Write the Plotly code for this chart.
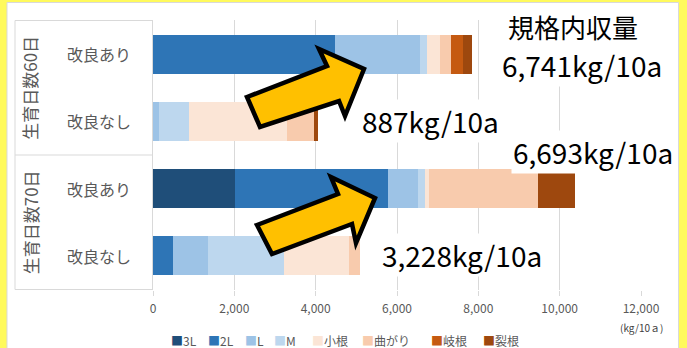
import plotly.graph_objects as go

# ---------------- data ----------------
categories = ["生育日数60日・改良あり", "生育日数60日・改良なし",
              "生育日数70日・改良あり", "生育日数70日・改良なし"]
sub_labels = ["改良あり", "改良なし", "改良あり", "改良なし"]
group_labels = ["生育日数60日", "生育日数70日"]

series_names = ["3L", "2L", "L", "M", "小根", "曲がり", "岐根", "裂根"]
v_3L = [0, 0, 2015, 0]
v_2L = [4480, 0, 3765, 495]
v_L = [2090, 150, 740, 862]
v_M = [171, 737, 173, 1871]
v_small = [320, 2414, 99, 1601]
v_bent = [271, 665, 2685, 271]
v_fork = [296, 0, 0, 0]
v_crack = [222, 99, 911, 0]
series_values = [v_3L, v_2L, v_L, v_M, v_small, v_bent, v_fork, v_crack]
colors = ["#1F4E79", "#2E75B6", "#9DC3E6", "#BDD7EE",
          "#FBE5D6", "#F8CBAD", "#C55A11", "#9E480E"]

x_ticks = [0, 2000, 4000, 6000, 8000, 10000, 12000]

# marketable yield (3L..M) per row
marketable = [a + b + c + d for a, b, c, d in zip(v_3L, v_2L, v_L, v_M)]

# ---------------- geometry helpers ----------------
W, H = 687, 348
L_, R_, T_, B_ = 153, 46, 20, 58
PW, PH = W - L_ - R_, H - T_ - B_


def px(x):
    return (x - L_) / PW


def py(y):
    return 1 - (y - T_) / PH


fig = go.Figure()
for name, vals, col in zip(series_names, series_values, colors):
    fig.add_trace(go.Bar(
        y=categories, x=vals, name=name, orientation="h",
        marker=dict(color=col, line=dict(width=0)), showlegend=False,
    ))

shapes = []
# chart area (white) on yellow background
shapes.append(dict(type="rect", xref="paper", yref="paper", layer="below",
                   x0=px(7), x1=px(678.5), y0=py(400), y1=py(2.5),
                   fillcolor="white", line=dict(color="#D9D9D9", width=1)))
# category label box
gc = "#D9D9D9"
for yv in [-0.5, 1.5, 3.5]:
    shapes.append(dict(type="line", xref="paper", yref="y", x0=px(15), x1=px(153),
                       y0=yv, y1=yv, line=dict(color=gc, width=1)))
shapes.append(dict(type="line", xref="paper", yref="y", x0=px(15), x1=px(15),
                   y0=-0.5, y1=3.5, line=dict(color=gc, width=1)))


def arrow_path(pts):
    return "M " + " L ".join(f"{px(a):.5f},{py(b):.5f}" for a, b in pts) + " Z"


arrow1 = [(247, 97), (327, 66), (319, 49), (364, 69), (345, 116), (339, 101), (260, 127)]
arrow2 = [(257, 225), (338, 194), (331, 177), (375, 198), (356, 243), (352, 224), (272, 254)]
for arr in (arrow1, arrow2):
    shapes.append(dict(type="path", xref="paper", yref="paper", layer="above",
                       path=arrow_path(arr), fillcolor="#FFC000",
                       line=dict(color="black", width=4.5)))

ann = []
gray = "#595959"
jp = "Noto Sans CJK JP"
for cat, lab in zip(categories, sub_labels):
    ann.append(dict(xref="paper", yref="y", x=px(99), y=cat, text=lab, showarrow=False,
                    font=dict(family=jp, size=16, color=gray), xanchor="center", yanchor="middle"))
for i, g in enumerate(group_labels):
    ann.append(dict(xref="paper", yref="y", x=px(30), y=0.5 + 2 * i, text=g, showarrow=False,
                    textangle=-90, font=dict(family=jp, size=17, color=gray),
                    xanchor="center", yanchor="middle"))

big = dict(family=jp, size=28, color="black")
ann.append(dict(xref="paper", yref="paper", x=px(573), y=py(27), text="規格内収量",
                showarrow=False, font=dict(family=jp, size=26, color="black"),
                bgcolor="white", xanchor="center", yanchor="middle"))
yield_pos = [(582, 65), (430, 121), (593, 152), (462, 255)]
for m, (xx, yy) in zip(marketable, yield_pos):
    ann.append(dict(xref="paper", yref="paper", x=px(xx), y=py(yy), text=f"{m:,}kg/10a",
                    showarrow=False, font=big, bgcolor="white",
                    xanchor="center", yanchor="middle"))

ann.append(dict(xref="paper", yref="paper", x=px(641), y=py(327), text="(kg/10ａ)",
                showarrow=False, font=dict(family=jp, size=10, color="#404040"),
                xanchor="center", yanchor="middle"))

# legend (drawn as text entries)
legend_x = [169, 206, 243, 272, 310, 360, 429, 481]
for name, col, lx in zip(series_names, colors, legend_x):
    ann.append(dict(xref="paper", yref="paper", x=px(lx), y=py(340),
                    text=f'<span style="color:{col}">■</span>{name}', showarrow=False,
                    font=dict(family=jp, size=12, color=gray),
                    xanchor="left", yanchor="middle"))

fig.update_layout(
    width=W, height=H, barmode="stack", bargap=0.42,
    margin=dict(l=L_, r=R_, t=T_, b=B_, pad=0),
    paper_bgcolor="#FFFA5C", plot_bgcolor="white",
    font=dict(family=jp, color=gray),
    shapes=shapes, annotations=ann, showlegend=False,
    xaxis=dict(range=[0, 12000], tickvals=x_ticks, tickformat=",d",
               showgrid=True, gridcolor="#D9D9D9", gridwidth=1, zeroline=False,
               ticks="outside", ticklen=5, tickcolor="#D9D9D9",
               tickfont=dict(family=jp, size=12, color=gray), ticklabelstandoff=3,
               showline=False, fixedrange=True),
    yaxis=dict(categoryorder="array", categoryarray=categories, autorange="reversed",
               showticklabels=False, showgrid=False, showline=True,
               linecolor="#D9D9D9", linewidth=1, ticks="", zeroline=False),
)

fig.write_html("out.html")
